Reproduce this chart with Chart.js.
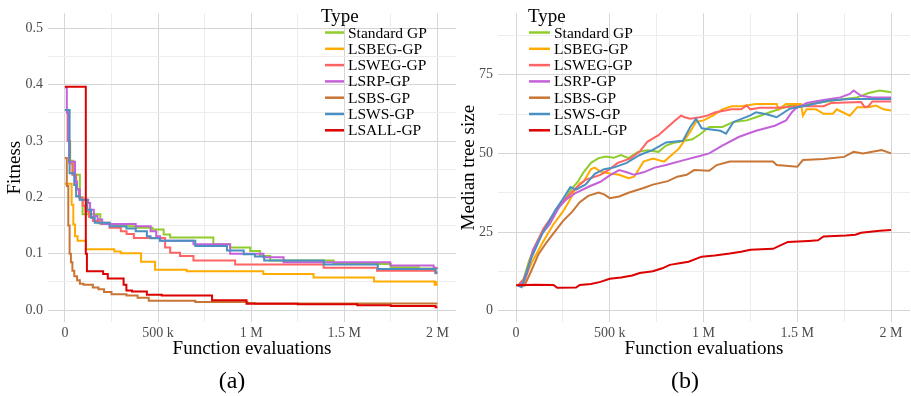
<!DOCTYPE html>
<html>
<head>
<meta charset="utf-8">
<script src="https://cdn.jsdelivr.net/npm/chart.js@4.4.0/dist/chart.umd.min.js"></script>
<style>
html,body{margin:0;padding:0;background:#fff;width:911px;height:396px;overflow:hidden;}
#wa{position:absolute;left:0;top:0;width:460px;height:396px;}
#wb{position:absolute;left:460px;top:0;width:451px;height:396px;}
.cap{position:absolute;top:366px;height:28px;line-height:28px;font-family:"Liberation Serif","Times New Roman",serif;font-size:24px;color:#000;text-align:center;}
</style>
</head>
<body>
<div id="wa"><canvas id="ca" width="460" height="396"></canvas></div>
<div id="wb"><canvas id="cb" width="451" height="396"></canvas></div>
<div class="cap" style="left:200px;width:64px">(a)</div>
<div class="cap" style="left:653px;width:64px">(b)</div>
<script>
// ---------- categories / labels ----------
const SERIES = ['Standard GP','LSBEG-GP','LSWEG-GP','LSRP-GP','LSBS-GP','LSWS-GP','LSALL-GP'];
const LEGEND_TITLE = 'Type';
const X_TITLE = 'Function evaluations';
const Y_TITLE_A = 'Fitness';
const Y_TITLE_B = 'Median tree size';

// x values are function evaluations in thousands
const xMajor = [0,500,1000,1500,2000];
const xMinor = [250,750,1250,1750];
const xLabels = ['0','500 k','1 M','1.5 M','2 M'];
const fitMajor = [0,0.1,0.2,0.3,0.4,0.5];
const fitMinor = [0.05,0.15,0.25,0.35,0.45];
const fitLabels = ['0.0','0.1','0.2','0.3','0.4','0.5'];
const sizeMajor = [0,25,50,75];
const sizeMinor = [12.5,37.5,62.5,87.5];
const sizeLabels = ['0','25','50','75'];

// ---------- panel (a): best fitness ----------
const fitStandard = [[0,0.355],[15,0.30],[28,0.265],[45,0.24],[80,0.20],[95,0.17],[190,0.153],[260,0.149],[380,0.146],[470,0.143],[530,0.134],[565,0.129],[797,0.117],[887,0.111],[995,0.105],[1048,0.096],[1102,0.088],[1443,0.082],[1750,0.076],[1900,0.074],[2000,0.073]];
const fitLSBEG = [[0,0.224],[36,0.187],[45,0.152],[54,0.131],[68,0.123],[113,0.108],[265,0.104],[300,0.101],[409,0.086],[484,0.0715],[654,0.069],[1065,0.064],[1335,0.058],[1660,0.051],[1985,0.045],[1995,0.050],[2000,0.050]];
const fitLSWEG = [[0,0.355],[15,0.30],[25,0.26],[40,0.24],[60,0.215],[75,0.20],[95,0.185],[110,0.175],[130,0.165],[150,0.158],[180,0.155],[240,0.146],[300,0.14],[331,0.135],[370,0.128],[538,0.111],[565,0.102],[618,0.096],[690,0.088],[914,0.081],[1389,0.075],[1676,0.070],[1990,0.0655],[2000,0.0655]];
const fitLSRP = [[0,0.395],[10,0.35],[18,0.30],[22,0.263],[54,0.228],[65,0.214],[80,0.196],[125,0.19],[135,0.178],[155,0.167],[175,0.161],[200,0.153],[380,0.149],[460,0.14],[490,0.131],[511,0.123],[690,0.117],[887,0.10],[1066,0.094],[1174,0.085],[1747,0.079],[1980,0.075],[2000,0.075]];
const fitLSBS = [[0,0.27],[10,0.22],[18,0.15],[25,0.10],[32,0.085],[40,0.07],[50,0.06],[65,0.053],[80,0.047],[100,0.045],[150,0.040],[180,0.037],[210,0.032],[250,0.028],[330,0.026],[390,0.022],[450,0.0165],[700,0.0146],[980,0.0125],[1020,0.0118],[2000,0.0118]];
const fitLSWS = [[0,0.355],[25,0.243],[50,0.222],[60,0.202],[80,0.196],[120,0.178],[140,0.164],[160,0.155],[240,0.149],[330,0.145],[380,0.140],[440,0.131],[460,0.1275],[510,0.123],[700,0.114],[870,0.106],[960,0.099],[1020,0.095],[1070,0.088],[1390,0.081],[1680,0.073],[1990,0.067],[2000,0.067]];
const fitLSALL = [[0,0.396],[112,0.10],[118,0.069],[205,0.064],[230,0.056],[315,0.045],[330,0.035],[360,0.033],[440,0.0275],[520,0.026],[790,0.0175],[975,0.0115],[1250,0.0105],[1570,0.0085],[1750,0.0075],[1990,0.005],[2000,0.005]];

// ---------- panel (b): median tree size ----------
const sizeStandard = [[10,8],[40,10],[70,16],[100,20.5],[145,25.5],[200,30.5],[250,34.5],[300,39],[330,41],[360,44],[400,47],[440,48.5],[480,49],[520,48.6],[560,49.5],[600,48.5],[650,50.5],[700,51],[760,50.5],[800,52.5],[850,53.5],[900,54],[940,54.5],[980,56],[1030,58.4],[1100,58.4],[1160,60],[1230,60.5],[1280,61.5],[1350,63],[1460,65.2],[1520,65.2],[1640,66.3],[1750,67.3],[1820,67.8],[1880,69.2],[1940,70],[2000,69.4]];
const sizeLSBEG = [[10,8],[40,8.5],[60,12],[90,16],[145,22],[200,27.5],[250,31.5],[290,35.5],[310,38],[340,40.5],[360,41],[400,45],[420,45.5],[450,44.2],[500,43.6],[550,43.2],[600,42.1],[630,42.6],[680,47.4],[730,48.4],[790,47.4],[830,49.5],[870,51.6],[930,57],[960,60],[1000,60.5],[1050,62],[1100,64],[1150,65],[1200,65],[1280,65.7],[1390,65.7],[1400,64],[1440,65.7],[1520,65.7],[1530,62],[1550,64],[1600,64],[1640,62.6],[1690,62.6],[1710,64],[1780,62],[1820,64.7],[1880,64.7],[1920,65.2],[1960,64],[2000,63.6]];
const sizeLSWEG = [[10,8],[40,10],[60,13],[90,19],[145,26],[180,29],[230,33.5],[270,36],[320,39],[370,41.6],[450,43.2],[500,45],[540,46.9],[610,48.4],[660,50.6],[700,53.7],[760,55.8],[800,57.9],[850,60.5],[880,62],[900,61.5],[930,61],[980,61.5],[1020,62],[1060,63],[1150,64],[1200,64],[1230,65.2],[1250,64],[1300,64.5],[1400,64.5],[1500,65],[1640,65],[1680,66],[1840,66.3],[1860,64.7],[1880,65],[1900,66.5],[2000,66.5]];
const sizeLSRP = [[10,8],[40,9],[60,12],[90,19.3],[145,25],[180,27.5],[230,33],[270,35.5],[320,37.5],[390,39.5],[450,41],[500,43],[550,44.7],[590,44],[630,43.2],[680,44],[740,45.5],[800,46.3],[890,47.8],[980,49.2],[1030,50],[1100,52.5],[1190,55.3],[1280,57.2],[1380,58.8],[1440,60.5],[1470,63],[1490,64.2],[1550,66],[1640,67],[1730,67.8],[1780,68.9],[1800,70],[1840,68.3],[1900,67.8],[2000,67.8]];
const sizeLSBS = [[10,8],[45,8],[80,12.5],[120,18],[160,21.5],[210,25.4],[250,28.5],[300,31.5],[340,34.5],[385,36.5],[440,37.6],[470,37],[500,35.8],[550,36.3],[600,37.5],[680,39],[730,40.1],[810,41.2],[860,42.6],[910,43.2],[950,44.7],[1030,44.5],[1070,46.3],[1140,47.4],[1250,47.4],[1370,47.4],[1390,46.3],[1500,45.8],[1530,47.9],[1640,48.2],[1750,48.9],[1800,50.5],[1850,50],[1950,51.1],[2000,50]];
const sizeLSWS = [[10,8],[30,7.5],[80,16.5],[140,24.5],[210,32],[250,35.5],[290,39.3],[320,38.5],[370,40.1],[420,43.5],[470,45],[520,45.5],[590,47],[660,49.5],[730,51.1],[800,53.5],[890,54],[930,58.5],[960,61],[990,58],[1090,57.2],[1120,56.3],[1160,60],[1250,62.1],[1280,63.1],[1330,62.5],[1390,61.5],[1460,64.2],[1550,65.2],[1670,66.8],[1780,67.3],[1880,67.3],[2000,67.3]];
const sizeLSALL = [[0,8.1],[100,8.3],[200,8.2],[220,7.3],[320,7.4],[340,8.2],[400,8.5],[450,9.2],[500,10.2],[560,10.6],[620,11.2],[660,12.0],[730,12.6],[780,13.5],[820,14.6],[880,15.2],[920,15.6],[990,17.2],[1060,17.6],[1140,18.2],[1200,18.8],[1250,19.4],[1370,19.7],[1410,20.8],[1450,21.9],[1560,22.2],[1610,22.4],[1640,23.6],[1760,23.9],[1810,24.2],[1840,24.8],[1940,25.4],[2000,25.7]];

const fitSeries = [fitStandard, fitLSBEG, fitLSWEG, fitLSRP, fitLSBS, fitLSWS, fitLSALL];
const sizeSeries = [sizeStandard, sizeLSBEG, sizeLSWEG, sizeLSRP, sizeLSBS, sizeLSWS, sizeLSALL];

// ---------- styles ----------
const COLORS = ['#90cc2b','#ffab00','#ff6363','#c461d9','#c87536','#4b90c2','#dc0000'];
const FONT = '"Liberation Serif", "Times New Roman", serif';
const GRID_MAJOR = '#d6d6d6';
const GRID_MINOR = '#ededed';
const TICK_COLOR = '#4d4d4d';

const legendPlugin = {
  id: 'typeLegend',
  afterDatasetsDraw(chart, args, o) {
    const ctx = chart.ctx;
    ctx.save();
    ctx.fillStyle = '#000';
    ctx.textAlign = 'left';
    ctx.textBaseline = 'alphabetic';
    ctx.font = '19px ' + FONT;
    ctx.fillText(LEGEND_TITLE, o.titleX, o.titleY);
    ctx.font = '15.5px ' + FONT;
    SERIES.forEach((name, i) => {
      const y = o.y0 + i * o.dy;
      ctx.strokeStyle = COLORS[i];
      ctx.lineWidth = 2.5;
      ctx.beginPath();
      ctx.moveTo(o.sx, y);
      ctx.lineTo(o.sx + o.sw, y);
      ctx.stroke();
      ctx.fillText(name, o.tx, y + 5);
    });
    ctx.restore();
  }
};

function gridColor(major) {
  return c => (c.tick && major.indexOf(c.tick.value) >= 0) ? GRID_MAJOR : GRID_MINOR;
}

function build(id, seriesData, stepped, p) {
  const datasets = seriesData.map((pts, i) => ({
    label: SERIES[i],
    data: pts.map(q => ({x: q[0], y: q[1]})),
    borderColor: COLORS[i],
    backgroundColor: COLORS[i],
    borderWidth: 2,
    pointRadius: 0,
    tension: 0,
    fill: false,
    stepped: stepped ? 'before' : false,
    order: SERIES.length - i
  }));
  return new Chart(document.getElementById(id), {
    type: 'line',
    data: {datasets},
    plugins: [legendPlugin],
    options: {
      responsive: false,
      animation: false,
      devicePixelRatio: 1,
      layout: {padding: {top: 10, right: p.padRight, bottom: 0, left: 0}},
      plugins: {
        legend: {display: false},
        tooltip: {enabled: false},
        typeLegend: p.legend
      },
      scales: {
        x: {
          type: 'linear',
          min: p.xmin, max: p.xmax,
          afterBuildTicks: s => { s.ticks = xMajor.concat(xMinor).sort((a,b)=>a-b).map(v => ({value: v})); },
          afterFit: s => { s.height = 74; },
          grid: {color: gridColor(xMajor), lineWidth: 1, drawTicks: false},
          border: {display: false},
          ticks: {
            autoSkip: false, maxRotation: 0, padding: 3, color: TICK_COLOR,
            font: {family: FONT, size: 14},
            callback: v => { const k = xMajor.indexOf(v); return k >= 0 ? xLabels[k] : ''; }
          },
          title: {display: true, text: X_TITLE, color: '#000', font: {family: FONT, size: 19, lineHeight: 1}, padding: {top: 0, bottom: 37}}
        },
        y: {
          type: 'linear',
          min: p.ymin, max: p.ymax,
          afterBuildTicks: s => { s.ticks = p.yMajor.concat(p.yMinor).sort((a,b)=>a-b).map(v => ({value: v})); },
          afterFit: s => { s.width = p.yWidth; },
          grid: {color: gridColor(p.yMajor), lineWidth: 1, drawTicks: false},
          border: {display: false},
          ticks: {
            autoSkip: false, padding: 5, color: TICK_COLOR,
            font: {family: FONT, size: 14},
            callback: v => { const k = p.yMajor.indexOf(v); return k >= 0 ? p.yLabels[k] : ''; }
          },
          title: {display: true, text: p.yTitle, color: '#000', font: {family: FONT, size: 19, lineHeight: 1}, padding: {top: p.yTitlePad, bottom: 0}}
        }
      }
    }
  });
}

build('ca', fitSeries, true, {
  xmin: -91, xmax: 2100, ymin: -0.021, ymax: 0.5263,
  yMajor: fitMajor, yMinor: fitMinor, yLabels: fitLabels,
  yWidth: 48, yTitle: Y_TITLE_A, yTitlePad: 6, padRight: 4,
  legend: {titleX: 321, titleY: 22, sx: 325, sw: 19, tx: 348, y0: 32.5, dy: 16.3}
});
build('cb', sizeSeries, false, {
  xmin: -96, xmax: 2101, ymin: -3.55, ymax: 94.48,
  yMajor: sizeMajor, yMinor: sizeMinor, yLabels: sizeLabels,
  yWidth: 38, yTitle: Y_TITLE_B, yTitlePad: 0, padRight: 1,
  legend: {titleX: 68, titleY: 22, sx: 69, sw: 21, tx: 94, y0: 32.5, dy: 16.3}
});
</script>
</body>
</html>
